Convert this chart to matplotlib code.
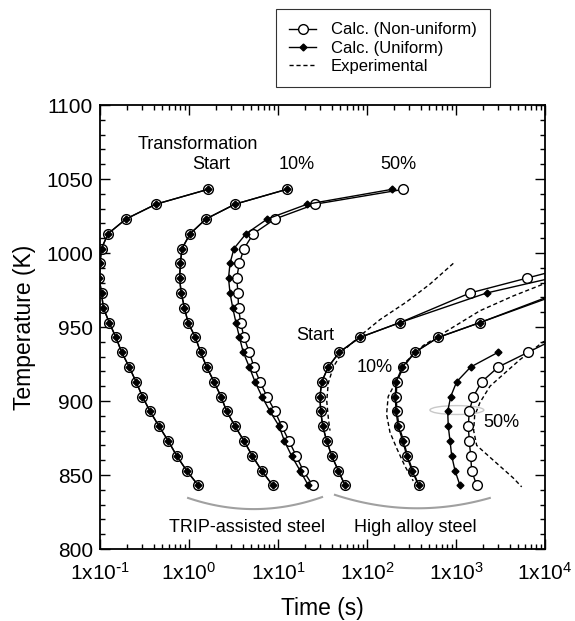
import numpy as np
import matplotlib.pyplot as plt
from matplotlib.patches import Ellipse
from matplotlib.lines import Line2D
from matplotlib.ticker import LogLocator, MultipleLocator, NullFormatter

plt.rcParams['font.family'] = ['Liberation Sans', 'DejaVu Sans']
plt.rcParams['mathtext.default'] = 'regular'

# ---- data: temperature (K) and time (s) ----
# TRIP-assisted steel (uniform and non-uniform nearly coincide for Start / 10%)
T_trip = [1043, 1033, 1023, 1013, 1003, 993, 983, 973, 963, 953, 943,
          933, 923, 913, 903, 893, 883, 873, 863, 853, 843]
trip_start = [1.63, 0.426, 0.196, 0.123, 0.104, 0.100, 0.098, 0.104, 0.109, 0.127, 0.151,
              0.175, 0.213, 0.254, 0.300, 0.365, 0.46, 0.585, 0.727, 0.94, 1.27]
trip_10 = [12.5, 3.29, 1.55, 1.03, 0.834, 0.80, 0.784, 0.817, 0.89, 0.975, 1.18,
           1.35, 1.58, 1.91, 2.29, 2.65, 3.29, 4.15, 5.14, 6.56, 8.71]
trip_50_uni = [190, 21.3, 7.59, 4.37, 3.20, 2.89, 2.78, 2.89, 3.10, 3.37, 3.69,
               4.07, 4.76, 5.52, 6.61, 8.13, 10.3, 11.8, 14.2, 17.7, 21.9]
trip_50_non = [256, 26.1, 9.25, 5.28, 4.15, 3.67, 3.44, 3.55, 3.60, 3.81, 4.15,
               4.76, 5.37, 6.28, 7.52, 9.25, 11.0, 13.3, 16.0, 19.2, 24.5]

# High alloy steel
T_ha_start_non = [993, 983, 973, 953, 943, 933, 923, 913, 903, 893, 883, 873, 863, 853, 843]
ha_start_non = [27000, 6230, 1437, 235, 83.4, 48.9, 36.7, 31.0, 29.6, 30.2, 31.8, 35.3, 40.1, 47.6, 56.6]
T_ha_start_uni = [983, 973, 953, 943, 933, 923, 913, 903, 893, 883, 873, 863, 853, 843]
ha_start_uni = [11700, 2213, 235, 83.4, 48.9, 36.7, 31.0, 29.6, 30.2, 31.8, 35.3, 40.1, 47.6, 56.6]

T_ha_10 = [973, 953, 943, 933, 923, 913, 903, 893, 883, 873, 863, 853, 843]
ha_10_non = [14000, 1862, 632, 346, 256, 217, 213, 217, 229, 258, 285, 326, 384]
ha_10_uni = [15500, 1862, 632, 346, 250, 212, 208, 212, 224, 252, 280, 320, 380]

T_ha_50_uni = [933, 923, 913, 903, 893, 883, 873, 863, 853, 843]
ha_50_uni = [2990, 1463, 1018, 872, 807, 819, 857, 895, 975, 1109]
T_ha_50_non = [943, 933, 923, 913, 903, 893, 883, 873, 863, 853, 843]
ha_50_non = [14000, 6490, 2990, 1945, 1565, 1410, 1375, 1410, 1463, 1500, 1709]

# Experimental (high alloy steel)
T_exp_start = [993, 979, 967, 955, 944, 934, 923, 912, 900, 889, 880]
exp_start = [933, 510, 279, 140, 83.4, 54.2, 41.8, 36.7, 35.3, 36.7, 38.4]
T_exp_10 = [985, 979, 971, 961, 950, 937.5, 927, 914, 903, 891, 879, 868, 856, 846]
exp_10 = [15000, 9570, 4400, 1860, 933, 429, 279, 216, 173, 166, 181, 216, 267, 331]
T_exp_50 = [944, 940, 928, 916, 910, 899, 890, 880, 870, 860, 848, 842]
exp_50 = [14000, 9570, 5240, 3120, 2410, 1860, 1620, 1580, 1709, 2625, 4400, 5470]

xtick_vals = [0.1, 1, 10, 100, 1000, 10000]
xtick_labels = [r'1x10$^{\text{-}1}$', '1x10$^{0}$', '1x10$^{1}$', '1x10$^{2}$', '1x10$^{3}$', '1x10$^{4}$']

fig = plt.figure(figsize=(5.75, 6.21), dpi=100)
ax = fig.add_axes([0.1739, 0.1159, 0.7739, 0.715])

open_kw = dict(color='black', lw=1.0, marker='o', ms=7, mfc='white', mec='black', mew=1.0, zorder=2)
fill_kw = dict(color='black', lw=1.0, marker='D', ms=3.5, mfc='black', mec='black', zorder=3)
dash_kw = dict(color='black', lw=1.0, ls=(0, (3, 2)), zorder=1)

# non-uniform (open circles)
for t, T in [(trip_start, T_trip), (trip_10, T_trip), (trip_50_non, T_trip),
             (ha_start_non, T_ha_start_non), (ha_10_non, T_ha_10), (ha_50_non, T_ha_50_non)]:
    ax.plot(t, T, **open_kw)
# uniform (filled diamonds)
for t, T in [(trip_start, T_trip), (trip_10, T_trip), (trip_50_uni, T_trip),
             (ha_start_uni, T_ha_start_uni), (ha_10_uni, T_ha_10), (ha_50_uni, T_ha_50_uni)]:
    ax.plot(t, T, **fill_kw)
# experimental
for t, T in [(exp_start, T_exp_start), (exp_10, T_exp_10), (exp_50, T_exp_50)]:
    ax.plot(t, T, **dash_kw)

ax.set_xscale('log')
ax.set_xlim(0.1, 1e4)
ax.set_ylim(800, 1100)
ax.set_xticks(xtick_vals)
ax.set_xticklabels(xtick_labels, fontsize=15)
ax.xaxis.set_minor_locator(LogLocator(base=10, subs=range(2, 10), numticks=20))
ax.xaxis.set_minor_formatter(NullFormatter())
ax.yaxis.set_major_locator(MultipleLocator(50))
ax.yaxis.set_minor_locator(MultipleLocator(10))
ax.tick_params(axis='both', which='both', direction='in', top=True, right=True)
ax.tick_params(which='major', length=7, width=1.0, labelsize=15)
ax.tick_params(which='minor', length=3.5, width=1.0)
ax.tick_params(axis='x', pad=9)
ax.tick_params(axis='y', pad=5)
for s in ax.spines.values():
    s.set_linewidth(1.3)

ax.set_xlabel('Time (s)', fontsize=16.5, labelpad=10)
ax.set_ylabel('Temperature (K)', fontsize=16.5, labelpad=7)

# annotations
tk = dict(transform=ax.transAxes, ha='center', va='center', fontsize=13)
ax.text(0.220, 0.910, 'Transformation', **tk)
ax.text(0.249, 0.865, 'Start', **tk)
ax.text(0.4416, 0.865, '10%', **tk)
ax.text(0.671, 0.865, '50%', **tk)
ax.text(0.483, 0.482, 'Start', **tk)
ax.text(0.618, 0.408, '10%', **tk)
ax.text(0.901, 0.286, '50%', **tk)
ax.text(0.330, 0.0495, 'TRIP-assisted steel', **tk)
ax.text(0.708, 0.0495, 'High alloy steel', **tk)

# grey brackets under the two groups
for xs, ys in [((0.198, 0.353, 0.499), (0.115, 0.090, 0.117)),
               ((0.528, 0.697, 0.876), (0.122, 0.092, 0.115))]:
    c = np.polyfit(xs, ys, 2)
    xx = np.linspace(xs[0], xs[-1], 60)
    ax.plot(xx, np.polyval(c, xx), color='#a0a0a0', lw=1.5, transform=ax.transAxes)

ax.add_patch(Ellipse((0.802, 0.313), 0.121, 0.02, transform=ax.transAxes,
                     fill=False, edgecolor='#c8c8c8', lw=1.0))

handles = [Line2D([], [], **{k: v for k, v in open_kw.items() if k != 'zorder'}),
           Line2D([], [], **{k: v for k, v in fill_kw.items() if k != 'zorder'}),
           Line2D([], [], **{k: v for k, v in dash_kw.items() if k != 'zorder'})]
leg = fig.legend(handles, ['Calc. (Non-uniform)', 'Calc. (Uniform)', 'Experimental'],
                 loc='upper left', bbox_to_anchor=(276 / 575, 1 - 9 / 621),
                 fontsize=12, frameon=True, fancybox=False, edgecolor='black',
                 handlelength=1.6, handletextpad=0.9, borderpad=0.8, labelspacing=0.2,
                 borderaxespad=0)
leg.get_frame().set_linewidth(0.8)

fig.savefig('out.png', dpi=100)
